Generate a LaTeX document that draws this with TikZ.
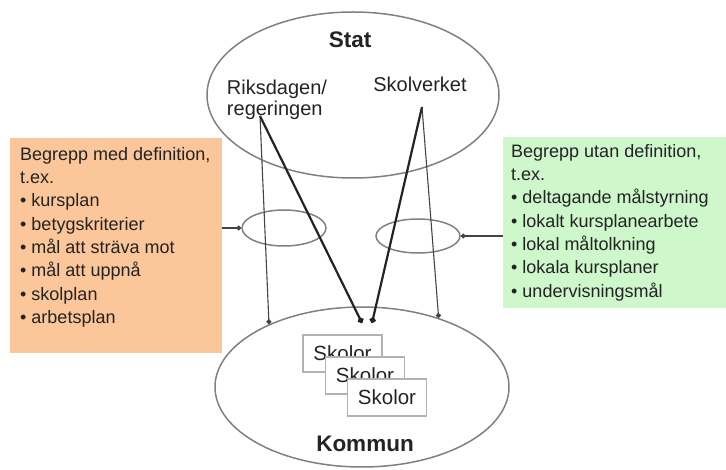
\documentclass[tikz,border=0pt]{standalone}
\usepackage{fontspec}
\setmainfont{Liberation Sans}
\usetikzlibrary{shapes,arrows.meta}

\definecolor{defcol}{RGB}{250,198,154}
\definecolor{udefcol}{RGB}{206,247,204}
\definecolor{ringcol}{RGB}{128,128,128}
\definecolor{inkcol}{RGB}{35,35,35}

\begin{document}
\begin{tikzpicture}[x=1pt,y=-1pt,
    ring/.style={ellipse,draw=ringcol,line width=1.5pt,inner sep=0pt},
    lbl/.style={font=\fontsize{20}{21}\selectfont,text=inkcol,inner sep=0pt},
    titlelbl/.style={font=\fontsize{22.5}{24}\selectfont\bfseries,text=inkcol,inner sep=0pt},
    listtext/.style={anchor=north west,inner sep=0pt,align=left,text=inkcol,font=\fontsize{18}{23.3}\selectfont},
    skola/.style={draw=gray!60,line width=1.6pt,fill=white,minimum width=79,minimum height=37,inner sep=0pt,font=\fontsize{20.5}{21}\selectfont,text=inkcol},
    tipline/.style={-{Circle[length=5pt]},inkcol!85,line width=1.1pt},
    heavyline/.style={-{Circle[length=6pt]},inkcol,line width=2.2pt}]
    \useasboundingbox (0,0) rectangle (726,470);
    % boxes with the concepts
    \node [fill=defcol,anchor=north west,minimum width=212,minimum height=215] (def) at (10,138) {};%
    \node [fill=udefcol,anchor=north west,minimum width=223,minimum height=171] (udef) at (503,137) {};%
    \node [listtext] (deftxt) at (20,147) {Begrepp med definition,\\t.ex.\\• kursplan\\• betygskriterier\\• mål att sträva mot\\• mål att uppnå\\• skolplan\\• arbetsplan};%
    \node [listtext] (udeftxt) at (511,144) {Begrepp utan definition,\\t.ex.\\• deltagande målstyrning\\• lokalt kursplanearbete\\• lokal måltolkning\\• lokala kursplaner\\• undervisningsmål};%
    % stat and kommun
    \node [ring,minimum width=292,minimum height=166] (stat) at (353,95) {};%
    \node [ring,minimum width=294,minimum height=160] (kommun) at (362,387) {};%
    \node [titlelbl] (statlbl) at (350,40) {Stat};%
    \node [lbl,align=left] (riks) at (277,100) {Riksdagen/\\regeringen};%
    \node [lbl] (skv) at (420,84) {Skolverket};%
    \node [titlelbl] (kommunlbl) at (365,444) {Kommun};%
    \node [skola] (sk1) at (342.5,353.5) {Skolor};%
    \node [skola] (sk2) at (365,375.5) {Skolor};%
    \node [skola] (sk3) at (387,397.5) {Skolor};%
    % small rings
    \node [ring,minimum width=84,minimum height=36] (lring) at (284,228) {};%
    \node [ring,minimum width=84,minimum height=34] (rring) at (418,236) {};%
    \coordinate (rikspt) at (260,116);
    \coordinate (skvpt) at (422,107);
    \coordinate (endA) at (362,323);
    \coordinate (endB) at (372,323);
    \draw [tipline] (rikspt) to (kommun.146);
    \draw [heavyline] (rikspt) to (endA);
    \draw [heavyline] (skvpt) to (endB);
    \draw [tipline] (skvpt) to (kommun.42);
    \draw [tipline] (def.east |- lring.west) to (lring.west);
    \draw [tipline] (udef.west |- rring.east) to (rring.east);
\end{tikzpicture}
\end{document}
